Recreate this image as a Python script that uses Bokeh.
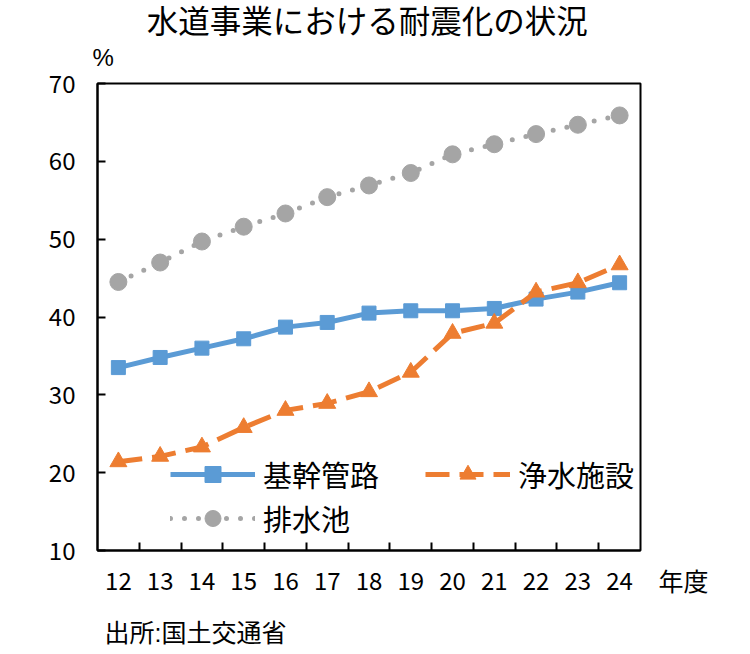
from bokeh.plotting import figure
from bokeh.models import FixedTicker, Label, Legend, LegendItem
from bokeh.embed import file_html
from bokeh.resources import INLINE

# 年度 (平成) and 耐震化率 (%)
years = [12, 13, 14, 15, 16, 17, 18, 19, 20, 21, 22, 23, 24]
kikan = [33.5, 34.8, 36.0, 37.2, 38.7, 39.3, 40.5, 40.8, 40.8, 41.1, 42.3, 43.2, 44.4]
josui = [21.4, 22.1, 23.3, 25.8, 28.0, 28.9, 30.4, 32.9, 37.9, 39.2, 43.2, 44.4, 46.7]
haisui = [44.5, 47.0, 49.7, 51.6, 53.3, 55.4, 56.9, 58.5, 60.9, 62.2, 63.5, 64.7, 65.9]

FONT = "Noto Sans CJK JP"
# Liberation metrics keep the side panels short, glyphs come from Noto
FONT2 = "Liberation Sans, Noto Sans CJK JP"

p = figure(width=742, height=646, x_range=(11.5, 24.5), y_range=(10, 70),
           output_backend="svg", toolbar_location=None,
           min_border_left=97, min_border_right=102, min_border_top=83, min_border_bottom=96)
p.title.visible = False
p.xgrid.visible = False
p.ygrid.visible = False
p.outline_line_color = "black"
p.outline_line_width = 2

# series
r_haisui_l = p.line(years, haisui, color="#A5A5A5", line_width=5, line_dash="0 14", line_cap="round")
r_haisui_m = p.scatter(years, haisui, marker="circle", size=17, color="#A5A5A5")
r_kikan_l = p.line(years, kikan, color="#5B9BD5", line_width=5)
r_kikan_m = p.scatter(years, kikan, marker="square", size=14, color="#5B9BD5")
r_josui_l = p.line(years, josui, color="#ED7D31", line_width=5, line_dash="24 10")
r_josui_m = p.scatter(years, josui, marker="triangle", size=17, color="#ED7D31")

# axes
p.yaxis.ticker = FixedTicker(ticks=[10, 20, 30, 40, 50, 60, 70])
p.yaxis.major_tick_in = 8
p.yaxis.major_tick_out = 0
p.yaxis.minor_tick_line_color = None
p.xaxis.ticker = FixedTicker(ticks=years, minor_ticks=[y + 0.5 for y in years[:-1]])
p.xaxis.major_tick_line_color = None
p.xaxis.major_tick_in = 0
p.xaxis.major_tick_out = 0
p.xaxis.minor_tick_in = 8
p.xaxis.minor_tick_out = 0
for ax in (p.xaxis, p.yaxis):
    ax.axis_line_color = "black"
    ax.axis_line_width = 2
    ax.major_tick_line_width = 2
    ax.minor_tick_line_width = 2
    ax.major_label_text_font = FONT
    ax.major_label_text_font_size = "24px"
    ax.major_label_text_color = "black"
p.xaxis.major_label_standoff = 21
p.yaxis.major_label_standoff = 22

# legends
common = dict(border_line_color=None, background_fill_alpha=0, padding=0, margin=0,
              glyph_width=85, glyph_height=40, label_height=40, label_standoff=8,
              label_text_font=FONT, label_text_font_size="29px", label_text_color="black")
leg1 = Legend(items=[LegendItem(label="基幹管路", renderers=[r_kikan_l, r_kikan_m]),
                     LegendItem(label="浄水施設", renderers=[r_josui_l, r_josui_m])],
              orientation="horizontal", spacing=46, location=(73, 55), **common)
leg2 = Legend(items=[LegendItem(label="排水池", renderers=[r_haisui_l, r_haisui_m])],
              location=(73, 11), **common)
p.add_layout(leg1)
p.add_layout(leg2)

# texts (labels in the side panels are not clipped to the frame)
p.add_layout(Label(x=17.96, y=77.84, text="水道事業における耐震化の状況", text_align="center",
                   text_baseline="middle", text_font=FONT2, text_font_size="31.5px",
                   text_color="black"), "above")
p.add_layout(Label(x=11.38, y=73.34, text="%", text_align="left", text_baseline="middle",
                   text_font=FONT2, text_font_size="24px", text_color="black"), "left")
p.add_layout(Label(x=11.67, y=-0.66, text="出所:国土交通省", text_align="left", text_baseline="middle",
                   text_font=FONT2, text_font_size="25px", text_color="black"), "below")
p.add_layout(Label(x=24.93, y=6.15, text="年度", text_align="left", text_baseline="middle",
                   text_font=FONT, text_font_size="25px", text_color="black"), "right")

open("out.html", "w").write(file_html(p, INLINE))
